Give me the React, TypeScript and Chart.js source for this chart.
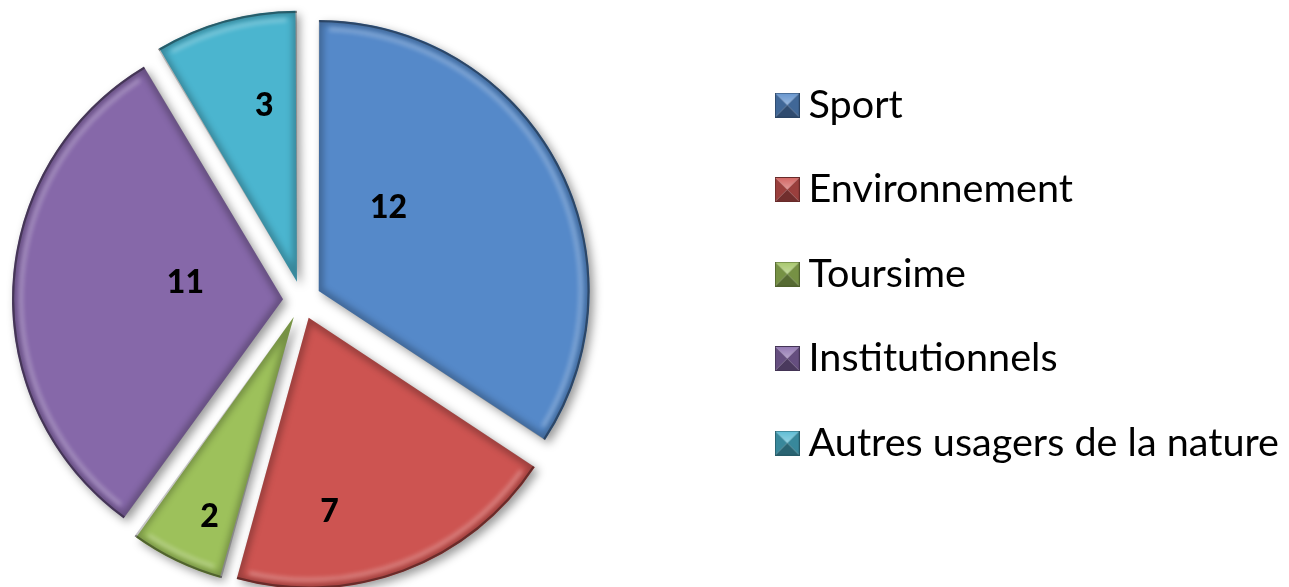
import React, { useEffect, useRef } from 'react';
import { Chart, registerables } from 'chart.js';

Chart.register(...registerables);

// ---- data ----
const categories = ['Sport', 'Environnement', 'Toursime', 'Institutionnels', 'Autres usagers de la nature'];
const values = [12, 7, 2, 11, 3];
const colors = ['#5589C9', '#CD5451', '#9DC15B', '#8668A9', '#4BB5CF'];

// ---- layout / style ----
const W = 1289;
const H = 587;
const RADIUS = 271;
const EXPLODE = 19; // px each slice is pulled out
const CENTER_X = 302;
const LEGEND_FONT = 39.6;
const LEGEND_GAP = 84.5 - 39.6;
const LEGEND_BOX_X = 787;
// label anchor inside each slice: fraction of the slice angle, fraction of radius
const labelPlacement = [
  { t: 0.325, rf: 0.4 },
  { t: 0.7, rf: 0.72 },
  { t: 0.36, rf: 0.8 },
  { t: 0.56, rf: 0.365 },
  { t: 0.66, rf: 0.66 },
];

function mix(hex: string, amt: number): string {
  const n = parseInt(hex.slice(1), 16);
  let r = (n >> 16) & 255, g = (n >> 8) & 255, b = n & 255;
  const t = amt > 0 ? 255 : 0;
  const a = Math.abs(amt);
  r = Math.round(r + (t - r) * a);
  g = Math.round(g + (t - g) * a);
  b = Math.round(b + (t - b) * a);
  return `rgb(${r},${g},${b})`;
}

function makeMarker(color: string): HTMLCanvasElement {
  const s = 25;
  const c = document.createElement('canvas');
  c.width = s;
  c.height = s;
  const g = c.getContext('2d')!;
  const m = s / 2;
  const tri = (pts: number[][], fill: string | CanvasGradient) => {
    g.beginPath();
    g.moveTo(pts[0][0], pts[0][1]);
    g.lineTo(pts[1][0], pts[1][1]);
    g.lineTo(pts[2][0], pts[2][1]);
    g.closePath();
    g.fillStyle = fill;
    g.fill();
  };
  const top = g.createLinearGradient(0, 0, 0, m);
  top.addColorStop(0, mix(color, 0.1));
  top.addColorStop(1, mix(color, 0.4));
  tri([[0, 0], [s, 0], [m, m]], top);
  tri([[0, 0], [0, s], [m, m]], mix(color, -0.25));
  tri([[s, 0], [s, s], [m, m]], mix(color, -0.25));
  tri([[0, s], [s, s], [m, m]], mix(color, -0.45));
  g.strokeStyle = mix(color, -0.5);
  g.lineWidth = 1;
  g.strokeRect(0.5, 0.5, s - 1, s - 1);
  return c;
}

const shadowPlugin = {
  id: 'sliceShadow',
  beforeDatasetsDraw(chart: any) {
    const ctx = chart.ctx;
    ctx.save();
    ctx.shadowColor = 'rgba(0,0,0,0.4)';
    ctx.shadowBlur = 10;
    ctx.shadowOffsetX = 4;
    ctx.shadowOffsetY = 4;
  },
  afterDatasetsDraw(chart: any) {
    const ctx = chart.ctx;
    ctx.restore();
    const meta = chart.getDatasetMeta(0);
    meta.data.forEach((arc: any, i: number) => {
      const { x, y, startAngle, endAngle } = arc;
      const mid = (startAngle + endAngle) / 2;
      const cx = x + Math.cos(mid) * EXPLODE;
      const cy = y + Math.sin(mid) * EXPLODE;
      const path = new Path2D();
      path.moveTo(cx, cy);
      path.arc(cx, cy, RADIUS, startAngle, endAngle);
      path.closePath();
      ctx.save();
      ctx.clip(path);
      // inner bevel shading
      ctx.filter = 'blur(3px)';
      ctx.lineWidth = 9;
      ctx.strokeStyle = 'rgba(0,0,0,0.25)';
      ctx.stroke(path);
      // highlight band near outer edge
      ctx.filter = 'blur(2px)';
      ctx.beginPath();
      ctx.arc(cx, cy, RADIUS - 9, startAngle + 0.04, endAngle - 0.04);
      ctx.lineWidth = 4;
      ctx.strokeStyle = 'rgba(255,255,255,0.28)';
      ctx.stroke();
      ctx.filter = 'none';
      ctx.beginPath();
      ctx.arc(cx, cy, RADIUS - 1, startAngle, endAngle);
      ctx.lineWidth = 2.5;
      ctx.strokeStyle = 'rgba(0,0,0,0.35)';
      ctx.stroke();
      ctx.restore();

      // value label
      const p = labelPlacement[i];
      const a = startAngle + (endAngle - startAngle) * p.t;
      const lx = cx + Math.cos(a) * RADIUS * p.rf;
      const ly = cy + Math.sin(a) * RADIUS * p.rf;
      ctx.save();
      ctx.font = '900 32px Lato';
      ctx.fillStyle = '#000';
      ctx.textAlign = 'center';
      ctx.textBaseline = 'middle';
      ctx.fillText(String(values[i]), lx, ly);
      ctx.restore();
    });
  },
  afterDatasetUpdate(chart: any, args: any) {
    // Chart.js enlarges small exploded slices; keep all radii equal,
    // and place the pie where the reference has it (left of the legend)
    const off = EXPLODE;
    args.meta.data.forEach((arc: any) => {
      const circ = arc.endAngle - arc.startAngle;
      const fix = 1 - Math.sin(Math.min(Math.PI, circ));
      arc.outerRadius = RADIUS - off * fix;
      arc.x = CENTER_X;
    });
  },
};

export default function App() {
  const ref = useRef<HTMLCanvasElement>(null);
  useEffect(() => {
    const canvas = ref.current!;
    const mctx = document.createElement('canvas').getContext('2d')!;
    mctx.font = `${LEGEND_FONT}px Lato`;
    const maxW = Math.max(...categories.map((c) => mctx.measureText(c).width));
    const boxW = 3;
    const legendWidth = LEGEND_GAP + boxW + LEGEND_FONT / 2 + maxW + 10;
    const padRight = Math.max(0, W - (LEGEND_BOX_X - LEGEND_GAP) - legendWidth);
    const markers = colors.map(makeMarker);

    const chart = new Chart(canvas, {
      type: 'pie',
      data: {
        labels: categories,
        datasets: [
          {
            data: values,
            backgroundColor: colors,
            borderWidth: 0,
            offset: EXPLODE * 4,
            clip: false as any,
          },
        ],
      },
      options: {
        responsive: false,
        animation: false,
        radius: RADIUS,
        events: [],
        layout: { padding: { left: 0, right: padRight, top: 0, bottom: 39 } },
        plugins: {
          tooltip: { enabled: false },
          title: {
            display: true,
            text: '',
            fullSize: false,
            position: 'top',
            font: { size: 12, lineHeight: 1.2 },
            padding: { top: 0, bottom: 52 - 14.4 },
          },
          legend: {
            display: true,
            position: 'right',
            labels: {
              usePointStyle: true,
              boxWidth: boxW,
              boxHeight: 25,
              padding: LEGEND_GAP,
              color: '#000',
              font: { family: 'Lato', size: LEGEND_FONT },
              generateLabels: () =>
                categories.map((c, i) => ({
                  text: c,
                  fillStyle: colors[i],
                  strokeStyle: colors[i],
                  lineWidth: 0,
                  pointStyle: markers[i],
                  hidden: false,
                  index: i,
                  fontColor: '#000',
                })),
            },
          },
        },
      } as any,
      plugins: [shadowPlugin],
    });
    return () => chart.destroy();
  }, []);
  return (
    <div style={{ position: 'fixed', left: 0, top: 0, width: W, height: H, background: '#fff' }}>
      <canvas ref={ref} width={W} height={H} style={{ display: 'block' }} />
    </div>
  );
}
